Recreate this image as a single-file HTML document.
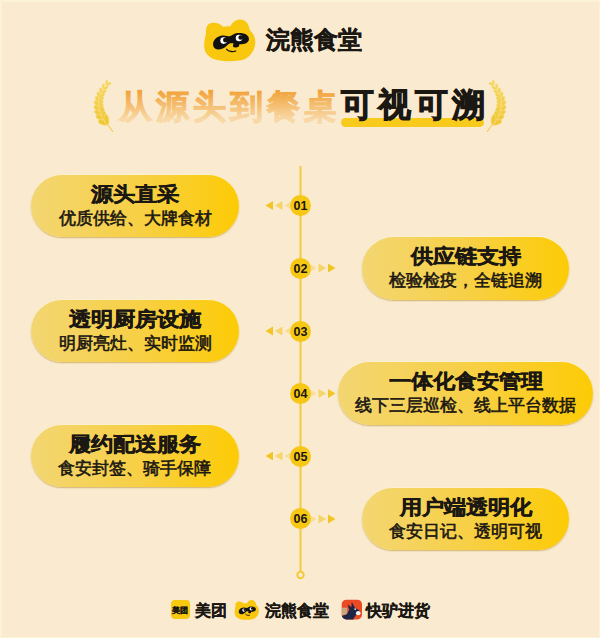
<!DOCTYPE html>
<html><head><meta charset="utf-8">
<style>
html,body{margin:0;padding:0;}
body{width:600px;height:638px;overflow:hidden;background:#FAEBD0;position:relative;font-family:"Liberation Sans",sans-serif;color:#1b1712;}
.abs{position:absolute;}
svg{position:absolute;left:0;top:0;}
.brand{left:266px;top:25px;font-size:23.5px;font-weight:bold;line-height:30px;white-space:nowrap;-webkit-text-stroke:0.5px #1b1712;}
.pill{height:62.5px;border-radius:31.25px;background:linear-gradient(90deg,#F3D672 0%,#F7D047 50%,#FDCB05 100%);box-shadow:0 -0.6px 0.8px rgba(255,250,215,0.9),0 1px 1.5px rgba(170,120,20,0.5);text-align:center;}
.pill .t{position:absolute;left:0;right:0;top:7px;font-size:22.2px;font-weight:bold;line-height:26px;white-space:nowrap;-webkit-text-stroke:0.5px #1b1712;transform:scaleY(0.9);}
.pill .s{position:absolute;left:0;right:0;top:33.2px;font-size:17px;line-height:22px;white-space:nowrap;-webkit-text-stroke:0.6px #1b1712;}
.dot{width:21px;height:21px;border-radius:50%;background:#F6C814;text-align:center;font-size:12.5px;font-weight:bold;line-height:21px;color:#1a1510;}
.footer{font-size:15.5px;font-weight:bold;line-height:20px;white-space:nowrap;-webkit-text-stroke:0.25px #1b1712;}
</style></head><body>

<svg width="600" height="638" viewBox="0 0 600 638">
<defs>
<linearGradient id="tg" x1="0" y1="89" x2="0" y2="119" gradientUnits="userSpaceOnUse">
<stop offset="0" stop-color="#F19F33"/><stop offset="1" stop-color="#F8D8A6"/></linearGradient>
<linearGradient id="wg" x1="0" y1="80" x2="0" y2="132" gradientUnits="userSpaceOnUse">
<stop offset="0" stop-color="#F5D75E"/><stop offset="1" stop-color="#EFC42A"/></linearGradient>
</defs>
<rect x="0" y="0" width="600" height="2" fill="#FCF3D6"/><rect x="0" y="0" width="2" height="638" fill="#FCF3D6"/><rect x="599" y="0" width="1" height="638" fill="#FCF3D6"/><rect x="0" y="637" width="600" height="1" fill="#FCF3D6"/>
<!-- logo -->
<g transform="translate(195 15)">
  <path d="M11 18.7 C10.5 13 12 9.5 15.5 8.3 C20 7 25 8.5 28 11.7 C30.5 11.2 33 11 35.5 11.3 C37.5 6.5 41.5 4.3 45.5 4.5 C50.5 4.8 54 8.5 54.8 15.2 C58.5 18.5 60.5 22.5 60.3 27.5 C60 37 53 44.5 44.3 45.6 C37 46.6 27 46.6 20 44.5 C12.5 42 8.8 36.5 9.2 30 C9.4 25.5 10 22 11 18.7 Z" fill="#F8C70E"/>
  <g transform="translate(36 26.5) scale(1.1) translate(-36 -26.5)"><path d="M19.7 29.5 C19.5 25 23.5 21.3 28.5 21 C31.5 20.8 33.5 22 35 21.8 C37 21.2 38.5 19.2 42 18.8 C47 18.2 52.5 20 52.3 24.3 C52.2 27.5 49 29.2 45.5 29 C44.5 29 43.8 28.8 43.5 29 C44 31 42 32.2 39.5 32 C37.5 31.8 37.2 29.8 38.5 28.5 C37 28 35.5 28.2 34.3 28.5 C32 30 30 33.5 24.5 33.8 C21.5 34 19.8 32 19.7 29.5 Z" fill="#111"/>
  <circle cx="29.3" cy="25.7" r="3" fill="#fff"/><circle cx="30.8" cy="25.2" r="2.1" fill="#111"/>
  <circle cx="43.3" cy="23.3" r="3" fill="#fff"/><circle cx="44.8" cy="22.9" r="2.1" fill="#111"/></g>
  <path d="M31.7 34.3 C33.5 36.5 37.5 37.3 40.7 36" stroke="#111" stroke-width="1.3" fill="none" stroke-linecap="round"/>
</g>
<!-- title -->
<rect x="341" y="118" width="143" height="9" rx="4.5" fill="#F8CA1C"/>
<g font-size="33" font-weight="bold" style="font-family:'Liberation Sans',sans-serif">
<text x="119 156 193 230 267 304" y="117.5" fill="url(#tg)" stroke="url(#tg)" stroke-width="1.0">从源头到餐桌</text>
<text x="341 378 415 452" y="116.3" fill="#1b1712" stroke="#1b1712" stroke-width="1.0">可视可溯</text>
</g>
<!-- wheat -->
<g fill="url(#wg)" stroke="#F8E092" stroke-width="0.55"><ellipse cx="106.69" cy="82.56" rx="2.80" ry="1.32" transform="rotate(-84.6 106.69 82.56)"/><ellipse cx="108.58" cy="84.00" rx="2.80" ry="1.32" transform="rotate(-20.6 108.58 84.00)"/><ellipse cx="103.42" cy="86.77" rx="3.06" ry="1.44" transform="rotate(-91.3 103.42 86.77)"/><ellipse cx="105.65" cy="88.09" rx="3.06" ry="1.44" transform="rotate(-27.3 105.65 88.09)"/><ellipse cx="100.81" cy="91.00" rx="3.32" ry="1.56" transform="rotate(-99.1 100.81 91.00)"/><ellipse cx="103.41" cy="92.09" rx="3.32" ry="1.56" transform="rotate(-35.1 103.41 92.09)"/><ellipse cx="98.87" cy="95.28" rx="3.59" ry="1.69" transform="rotate(-108.0 98.87 95.28)"/><ellipse cx="101.82" cy="96.01" rx="3.59" ry="1.69" transform="rotate(-44.0 101.82 96.01)"/><ellipse cx="97.62" cy="99.64" rx="3.85" ry="1.81" transform="rotate(-117.8 97.62 99.64)"/><ellipse cx="100.88" cy="99.88" rx="3.85" ry="1.81" transform="rotate(-53.8 100.88 99.88)"/><ellipse cx="97.10" cy="104.11" rx="4.11" ry="1.94" transform="rotate(-127.9 97.10 104.11)"/><ellipse cx="100.57" cy="103.75" rx="4.11" ry="1.94" transform="rotate(-63.9 100.57 103.75)"/><ellipse cx="97.37" cy="108.68" rx="4.38" ry="2.06" transform="rotate(-137.8 97.37 108.68)"/><ellipse cx="100.94" cy="107.66" rx="4.38" ry="2.06" transform="rotate(-73.8 100.94 107.66)"/><ellipse cx="98.45" cy="113.30" rx="4.64" ry="2.18" transform="rotate(-146.9 98.45 113.30)"/><ellipse cx="102.02" cy="111.64" rx="4.64" ry="2.18" transform="rotate(-82.9 102.02 111.64)"/><ellipse cx="100.38" cy="117.94" rx="4.90" ry="2.31" transform="rotate(-154.9 100.38 117.94)"/><ellipse cx="103.88" cy="115.68" rx="4.90" ry="2.31" transform="rotate(-90.9 103.88 115.68)"/><ellipse cx="103.15" cy="122.56" rx="5.17" ry="2.43" transform="rotate(-161.7 103.15 122.56)"/><ellipse cx="106.52" cy="119.76" rx="5.17" ry="2.43" transform="rotate(-97.7 106.52 119.76)"/><path d="M108 125 L113 132" stroke="#F1C631" stroke-width="1"/></g>
<g fill="url(#wg)" stroke="#F8E092" stroke-width="0.55" transform="translate(600 0) scale(-1 1)"><ellipse cx="106.69" cy="82.56" rx="2.80" ry="1.32" transform="rotate(-84.6 106.69 82.56)"/><ellipse cx="108.58" cy="84.00" rx="2.80" ry="1.32" transform="rotate(-20.6 108.58 84.00)"/><ellipse cx="103.42" cy="86.77" rx="3.06" ry="1.44" transform="rotate(-91.3 103.42 86.77)"/><ellipse cx="105.65" cy="88.09" rx="3.06" ry="1.44" transform="rotate(-27.3 105.65 88.09)"/><ellipse cx="100.81" cy="91.00" rx="3.32" ry="1.56" transform="rotate(-99.1 100.81 91.00)"/><ellipse cx="103.41" cy="92.09" rx="3.32" ry="1.56" transform="rotate(-35.1 103.41 92.09)"/><ellipse cx="98.87" cy="95.28" rx="3.59" ry="1.69" transform="rotate(-108.0 98.87 95.28)"/><ellipse cx="101.82" cy="96.01" rx="3.59" ry="1.69" transform="rotate(-44.0 101.82 96.01)"/><ellipse cx="97.62" cy="99.64" rx="3.85" ry="1.81" transform="rotate(-117.8 97.62 99.64)"/><ellipse cx="100.88" cy="99.88" rx="3.85" ry="1.81" transform="rotate(-53.8 100.88 99.88)"/><ellipse cx="97.10" cy="104.11" rx="4.11" ry="1.94" transform="rotate(-127.9 97.10 104.11)"/><ellipse cx="100.57" cy="103.75" rx="4.11" ry="1.94" transform="rotate(-63.9 100.57 103.75)"/><ellipse cx="97.37" cy="108.68" rx="4.38" ry="2.06" transform="rotate(-137.8 97.37 108.68)"/><ellipse cx="100.94" cy="107.66" rx="4.38" ry="2.06" transform="rotate(-73.8 100.94 107.66)"/><ellipse cx="98.45" cy="113.30" rx="4.64" ry="2.18" transform="rotate(-146.9 98.45 113.30)"/><ellipse cx="102.02" cy="111.64" rx="4.64" ry="2.18" transform="rotate(-82.9 102.02 111.64)"/><ellipse cx="100.38" cy="117.94" rx="4.90" ry="2.31" transform="rotate(-154.9 100.38 117.94)"/><ellipse cx="103.88" cy="115.68" rx="4.90" ry="2.31" transform="rotate(-90.9 103.88 115.68)"/><ellipse cx="103.15" cy="122.56" rx="5.17" ry="2.43" transform="rotate(-161.7 103.15 122.56)"/><ellipse cx="106.52" cy="119.76" rx="5.17" ry="2.43" transform="rotate(-97.7 106.52 119.76)"/><path d="M108 125 L113 132" stroke="#F1C631" stroke-width="1"/></g>
<!-- timeline -->
<rect x="299.5" y="166" width="2" height="405" fill="#F3CA3A"/>
<circle cx="300.5" cy="575" r="3.2" fill="#FAEBD0" stroke="#F3CA3A" stroke-width="2"/>
<polygon points="292.0,201.0 284.5,205.5 292.0,210.0" fill="#F2C524" fill-opacity="0.35"/>
<polygon points="282.5,201.0 275.0,205.5 282.5,210.0" fill="#F2C524" fill-opacity="0.6"/>
<polygon points="273.0,201.0 265.5,205.5 273.0,210.0" fill="#F2C524" fill-opacity="1.0"/>
<polygon points="309.0,263.5 316.5,268.0 309.0,272.5" fill="#F2C524" fill-opacity="0.35"/>
<polygon points="318.5,263.5 326.0,268.0 318.5,272.5" fill="#F2C524" fill-opacity="0.6"/>
<polygon points="328.0,263.5 335.5,268.0 328.0,272.5" fill="#F2C524" fill-opacity="1.0"/>
<polygon points="292.0,326.5 284.5,331.0 292.0,335.5" fill="#F2C524" fill-opacity="0.35"/>
<polygon points="282.5,326.5 275.0,331.0 282.5,335.5" fill="#F2C524" fill-opacity="0.6"/>
<polygon points="273.0,326.5 265.5,331.0 273.0,335.5" fill="#F2C524" fill-opacity="1.0"/>
<polygon points="309.0,389.0 316.5,393.5 309.0,398.0" fill="#F2C524" fill-opacity="0.35"/>
<polygon points="318.5,389.0 326.0,393.5 318.5,398.0" fill="#F2C524" fill-opacity="0.6"/>
<polygon points="328.0,389.0 335.5,393.5 328.0,398.0" fill="#F2C524" fill-opacity="1.0"/>
<polygon points="292.0,451.5 284.5,456.0 292.0,460.5" fill="#F2C524" fill-opacity="0.35"/>
<polygon points="282.5,451.5 275.0,456.0 282.5,460.5" fill="#F2C524" fill-opacity="0.6"/>
<polygon points="273.0,451.5 265.5,456.0 273.0,460.5" fill="#F2C524" fill-opacity="1.0"/>
<polygon points="309.0,514.4 316.5,518.9 309.0,523.4" fill="#F2C524" fill-opacity="0.35"/>
<polygon points="318.5,514.4 326.0,518.9 318.5,523.4" fill="#F2C524" fill-opacity="0.6"/>
<polygon points="328.0,514.4 335.5,518.9 328.0,523.4" fill="#F2C524" fill-opacity="1.0"/>
<!-- footer icons -->
<rect x="171" y="600" width="19" height="19" rx="4" fill="#F8C90F"/>
<text x="180.3" y="612.8" font-size="8.3" font-weight="bold" text-anchor="middle" fill="#1b1712" stroke="#1b1712" stroke-width="0.25" style="font-family:'Liberation Sans',sans-serif">美团</text>
<g transform="translate(234.5 599.8) scale(0.475)">
  <path d="M11 18.7 C10.5 13 12 9.5 15.5 8.3 C20 7 25 8.5 28 11.7 C30.5 11.2 33 11 35.5 11.3 C37.5 6.5 41.5 4.3 45.5 4.5 C50.5 4.8 54 8.5 54.8 15.2 C58.5 18.5 60.5 22.5 60.3 27.5 C60 37 53 44.5 44.3 45.6 C37 46.6 27 46.6 20 44.5 C12.5 42 8.8 36.5 9.2 30 C9.4 25.5 10 22 11 18.7 Z" fill="#F8C70E" transform="translate(-9 -4)"/>
  <g transform="translate(-9 -4)">
  <g transform="translate(36 26.5) scale(1.1) translate(-36 -26.5)"><path d="M19.7 29.5 C19.5 25 23.5 21.3 28.5 21 C31.5 20.8 33.5 22 35 21.8 C37 21.2 38.5 19.2 42 18.8 C47 18.2 52.5 20 52.3 24.3 C52.2 27.5 49 29.2 45.5 29 C44.5 29 43.8 28.8 43.5 29 C44 31 42 32.2 39.5 32 C37.5 31.8 37.2 29.8 38.5 28.5 C37 28 35.5 28.2 34.3 28.5 C32 30 30 33.5 24.5 33.8 C21.5 34 19.8 32 19.7 29.5 Z" fill="#111"/>
  <circle cx="29.3" cy="25.7" r="3" fill="#fff"/><circle cx="30.8" cy="25.2" r="2.1" fill="#111"/>
  <circle cx="43.3" cy="23.3" r="3" fill="#fff"/><circle cx="44.8" cy="22.9" r="2.1" fill="#111"/></g>
  <path d="M32.5 34.5 C34.5 36.5 38 37.3 40.5 36.6" stroke="#111" stroke-width="2" fill="none" stroke-linecap="round"/>
  </g>
</g>
<defs><clipPath id="kl"><rect x="3.7" y="3.7" width="20.3" height="19.7" rx="4.6"/></clipPath></defs>
<g transform="translate(338 596)">
  <rect x="3.7" y="3.7" width="20.3" height="19.7" rx="4.6" fill="#EC4A22"/>
  <g clip-path="url(#kl)">
  <rect x="3.7" y="11.7" width="5.6" height="7.5" fill="#C9A47F"/>
  <path d="M3 20.2 L8.8 18.2 L11.3 13.8 L9.6 8.4 L13.4 11.3 L13.8 5.9 L16.8 11.6 L22.3 15.3 L22.6 18.8 L18.2 18.8 L15.6 22.5 L15.6 24 L3 24 Z" fill="#1C2546"/>
  <ellipse cx="20.3" cy="17.2" rx="2.4" ry="2.1" fill="#F6F3EE"/>
  <circle cx="17.2" cy="13.1" r="0.9" fill="#E8ECF2"/>
  </g>
</g>
</svg>

<div class="abs brand">浣熊食堂</div>

<div class="abs pill" style="left:31px;top:174.5px;width:208px;"><div class="t">源头直采</div><div class="s">优质供给、大牌食材</div></div>
<div class="abs pill" style="left:362px;top:237px;width:207px;"><div class="t">供应链支持</div><div class="s">检验检疫，全链追溯</div></div>
<div class="abs pill" style="left:31px;top:299.75px;width:208px;"><div class="t">透明厨房设施</div><div class="s">明厨亮灶、实时监测</div></div>
<div class="abs pill" style="left:338px;top:362.25px;width:255px;"><div class="t">一体化食安管理</div><div class="s">线下三层巡检、线上平台数据</div></div>
<div class="abs pill" style="left:31px;top:424.75px;width:207.5px;"><div class="t">履约配送服务</div><div class="s">食安封签、骑手保障</div></div>
<div class="abs pill" style="left:362px;top:487.5px;width:207px;"><div class="t">用户端透明化</div><div class="s">食安日记、透明可视</div></div>

<div class="abs dot" style="left:290px;top:195.0px;padding-top:1px;height:20px;">01</div>
<div class="abs dot" style="left:290px;top:257.5px;padding-top:1px;height:20px;">02</div>
<div class="abs dot" style="left:290px;top:320.5px;padding-top:1px;height:20px;">03</div>
<div class="abs dot" style="left:290px;top:383.0px;padding-top:1px;height:20px;">04</div>
<div class="abs dot" style="left:290px;top:445.5px;padding-top:1px;height:20px;">05</div>
<div class="abs dot" style="left:290px;top:508.4px;padding-top:1px;height:20px;">06</div>

<div class="abs footer" style="left:195px;top:600.5px;">美团</div>
<div class="abs footer" style="left:265px;top:601px;">浣熊食堂</div>
<div class="abs footer" style="left:366px;top:600.5px;">快驴进货</div>

</body></html>
